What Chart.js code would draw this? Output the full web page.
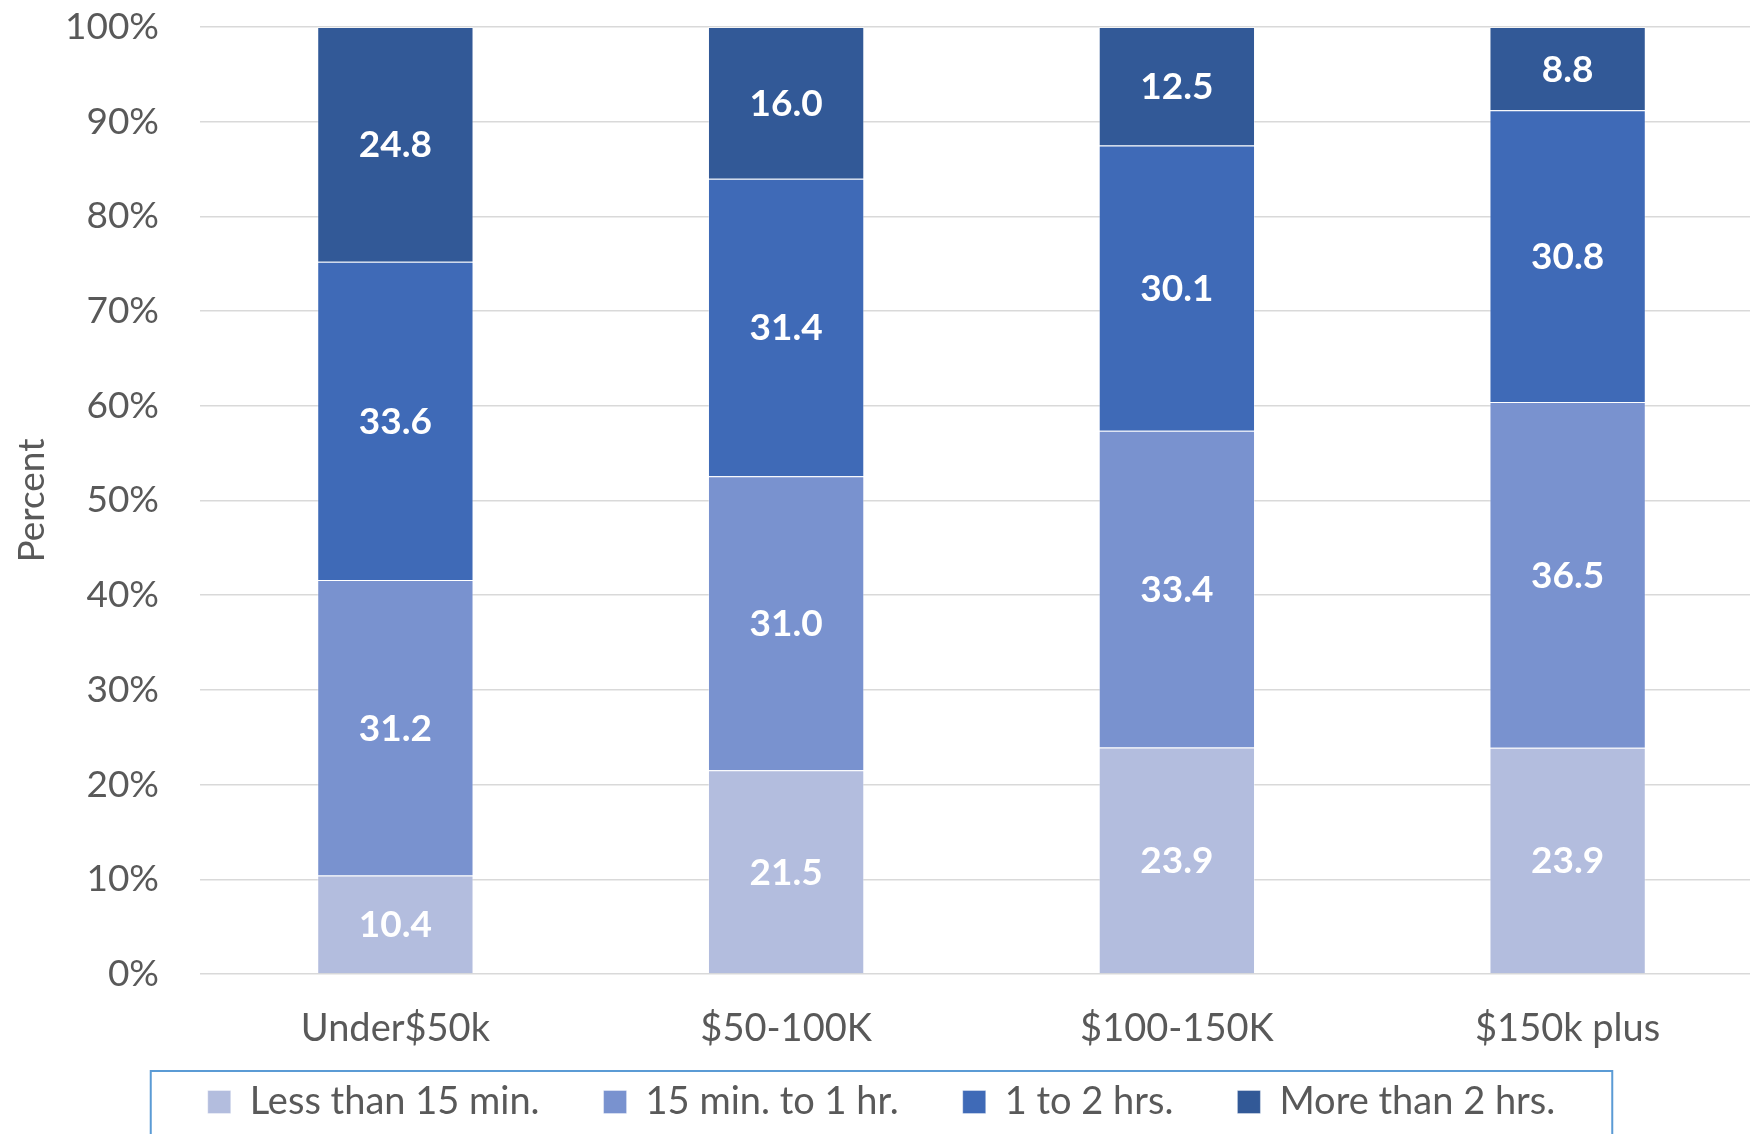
<!DOCTYPE html>
<html>
<head>
<meta charset="utf-8">
<script src="https://cdn.jsdelivr.net/npm/chart.js@4.4.1/dist/chart.umd.min.js"></script>
<style>
  html, body { margin: 0; padding: 0; background: #ffffff; overflow: hidden; }
  #wrap { width: 1750px; height: 1134px; overflow: hidden; position: relative; }
  canvas { display: block; }
</style>
</head>
<body>
<div id="wrap"><canvas id="c" width="1763" height="1134" style="width:1763px;height:1134px"></canvas></div>
<script>
const categories = ['Under$50k', '$50-100K', '$100-150K', '$150k plus'];
const seriesNames = ['Less than 15 min.', '15 min. to 1 hr.', '1 to 2 hrs.', 'More than 2 hrs.'];
const lessThan15 = [10.4, 21.5, 23.9, 23.9];
const min15To1hr = [31.2, 31.0, 33.4, 36.5];
const hrs1To2 = [33.6, 31.4, 30.1, 30.8];
const moreThan2 = [24.8, 16.0, 12.5, 8.8];
const seriesColors = ['#B3BDDE', '#7992CF', '#3F6AB7', '#325997'];
const yTickSuffix = '%';

const rawSeries = [lessThan15, min15To1hr, hrs1To2, moreThan2];
// 100% stacked: normalise each category to its total
const totals = categories.map((_, i) => rawSeries.reduce((s, arr) => s + arr[i], 0));

const FONT = 'Lato';
const TEXT = '#595959';

const datasets = rawSeries.map((arr, k) => ({
  label: seriesNames[k],
  data: arr.map((v, i) => v / totals[i] * 100),
  raw: arr,
  backgroundColor: seriesColors[k],
  borderColor: 'rgba(255,255,255,0.35)',
  borderWidth: 1,
  barPercentage: 0.4,
  categoryPercentage: 1.0
}));

const valueLabels = {
  id: 'valueLabels',
  afterDatasetsDraw(chart) {
    const ctx = chart.ctx;
    ctx.save();
    ctx.font = 'bold 37px ' + FONT;
    ctx.fillStyle = '#ffffff';
    ctx.textAlign = 'center';
    ctx.textBaseline = 'middle';
    chart.data.datasets.forEach((ds, di) => {
      const meta = chart.getDatasetMeta(di);
      meta.data.forEach((el, i) => {
        const p = el.getProps(['x', 'y', 'base'], true);
        ctx.fillText(ds.raw[i].toFixed(1), p.x, (p.y + p.base) / 2 + 1);
      });
    });
    ctx.restore();
  }
};

// let the category labels draw below the (compact) x-axis box without clipping
const axisLabelRoom = {
  id: 'axisLabelRoom',
  afterLayout(chart) {
    const x = chart.scales.x;
    x.bottom = x.top + 90;
  }
};

const legendFrame = {
  id: 'legendFrame',
  afterDraw(chart) {
    const boxes = chart.legend.legendHitBoxes;
    if (!boxes || !boxes.length) return;
    const first = boxes[0], last = boxes[boxes.length - 1];
    const ctx = chart.ctx;
    ctx.save();
    ctx.strokeStyle = '#5B9BD5';
    ctx.lineWidth = 2;
    const l = first.left - 57, r = last.left + last.width + 57, t = first.top - 12;
    ctx.strokeRect(l, t, r - l, 200);
    ctx.restore();
  }
};

new Chart(document.getElementById('c'), {
  type: 'bar',
  data: { labels: categories, datasets },
  options: {
    responsive: false,
    animation: false,
    devicePixelRatio: 1,
    layout: { padding: { top: 27, bottom: 3, left: 0, right: 0 } },
    plugins: {
      tooltip: { enabled: false },
      legend: {
        position: 'bottom',
        labels: {
          boxWidth: 23,
          boxHeight: 23,
          padding: 64,
          color: TEXT,
          font: { family: FONT, size: 38 }
        }
      }
    },
    scales: {
      x: {
        stacked: true,
        grid: { display: false, drawTicks: false },
        border: { display: false },
        ticks: { color: TEXT, font: { family: FONT, size: 38 }, padding: 32 },
        afterFit(scale) { scale.height = 45; }
      },
      y: {
        stacked: true,
        min: 0,
        max: 100,
        grid: { color: '#D9D9D9', lineWidth: 1.5, drawTicks: false },
        border: { display: false },
        ticks: {
          stepSize: 10,
          color: TEXT,
          padding: 41,
          font: { family: FONT, size: 37 },
          callback: v => v + yTickSuffix
        },
        title: {
          display: true,
          text: 'Percent',
          color: TEXT,
          font: { family: FONT, size: 37 },
          padding: { top: 10, bottom: 0 }
        },
        afterFit(scale) {
          scale.width = 200;
          scale.paddingTop = 0;
          scale.paddingBottom = 0;
        }
      }
    }
  },
  plugins: [valueLabels, axisLabelRoom, legendFrame]
});
</script>
</body>
</html>
